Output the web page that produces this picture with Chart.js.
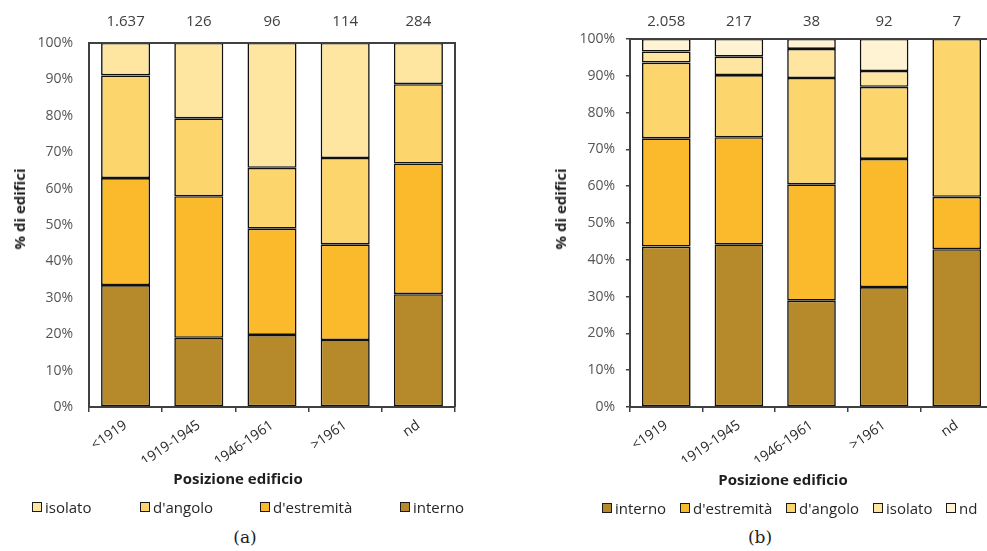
<!DOCTYPE html>
<html>
<head>
<meta charset="utf-8">
<script src="https://cdn.jsdelivr.net/npm/chart.js@4.4.1/dist/chart.umd.min.js"></script>
<style>
  html, body { margin: 0; padding: 0; background: #fff; width: 987px; height: 551px; overflow: hidden; position: relative; }
  .panel { position: absolute; top: 0; }
  .panel canvas { display: block; }
  .ytitle, .xtitle { position: absolute; font: bold 15px 'Open Sans', sans-serif; color: #1e1e1e; white-space: nowrap; }
  .ytitle { transform: translate(-50%, -50%) rotate(-90deg); }
  .xtitle { transform: translate(-50%, -50%); }
  .legend-item { position: absolute; display: flex; align-items: center; transform: translateY(-50%);
                 font: 15px 'Open Sans', sans-serif; color: #262626; white-space: nowrap; }
  .legend-item i { display: inline-block; width: 8px; height: 8px; border: 1.4px solid #1a1a1a; margin-right: 3px; }
  .caption { position: absolute; transform: translate(-50%, -50%); font: 17px 'DejaVu Serif', serif; color: #222; }
</style>
</head>
<body>

<div class="panel" id="panelA" style="left:0px"><canvas id="chartA" width="490" height="470"></canvas></div>
<div class="panel" id="panelB" style="left:495px"><canvas id="chartB" width="520" height="470"></canvas></div>

<script>
// categorie (epoca di costruzione)
const categories = ['<1919', '1919-1945', '1946-1961', '>1961', 'nd'];

// (a) numero di edifici per epoca e quote percentuali per posizione
const totalsA = ['1.637', '126', '96', '114', '284'];
const internoA   = [33.5, 19.0, 19.8, 18.4, 31.0];
const estremitaA = [29.4, 38.9, 29.2, 26.3, 35.9];
const angoloA    = [28.2, 21.4, 16.7, 23.7, 21.8];
const isolatoA   = [8.9, 20.7, 34.3, 31.6, 11.3];

// (b)
const totalsB = ['2.058', '217', '38', '92', '7'];
const internoB   = [43.6, 44.2, 28.9, 32.6, 42.9];
const estremitaB = [29.4, 29.1, 31.6, 34.8, 14.2];
const angoloB    = [20.6, 16.9, 28.9, 19.6, 42.9];
const isolatoB   = [3.0, 5.0, 7.9, 4.3, 0];
const ndB        = [3.4, 4.8, 2.7, 8.7, 0];

const yTicks = [0, 10, 20, 30, 40, 50, 60, 70, 80, 90, 100];

const colors = {
  interno: '#B68A2A',
  estremita: '#FBBA2B',
  angolo: '#FDD56D',
  isolato: '#FEE6A0',
  nd: '#FFF3D4'
};

const axisColor = '#404040';
const fontFamily = "'Open Sans', sans-serif";

function ds(label, data, color) {
  return {
    label: label,
    data: data,
    backgroundColor: color,
    borderColor: '#111',
    borderWidth: 1.6,
    borderSkipped: false,
    categoryPercentage: 1,
    barPercentage: 0.67
  };
}

// numero di edifici sopra ogni colonna
const totalsPlugin = {
  id: 'totals',
  afterDatasetsDraw(chart, args, opts) {
    const ctx = chart.ctx;
    const meta = chart.getDatasetMeta(0);
    ctx.save();
    ctx.font = '15px ' + fontFamily;
    ctx.fillStyle = '#404040';
    ctx.textAlign = 'center';
    ctx.textBaseline = 'middle';
    meta.data.forEach((bar, i) => {
      ctx.fillText(opts.labels[i], bar.x, chart.chartArea.top - opts.offset);
    });
    ctx.restore();
  }
};

// cornice superiore e destra dell'area del grafico
const framePlugin = {
  id: 'frame',
  afterDatasetsDraw(chart) {
    const {ctx, chartArea: a} = chart;
    ctx.save();
    ctx.strokeStyle = axisColor;
    ctx.lineWidth = 2;
    ctx.beginPath();
    ctx.moveTo(a.left, a.top);
    ctx.lineTo(a.right, a.top);
    ctx.lineTo(a.right, a.bottom);
    ctx.stroke();
    ctx.restore();
  }
};

function makeChart(canvasId, datasets, totals, cfg) {
  return new Chart(document.getElementById(canvasId), {
    type: 'bar',
    data: { labels: categories, datasets: datasets },
    plugins: [totalsPlugin, framePlugin],
    options: {
      responsive: false,
      animation: false,
      layout: { padding: cfg.padding },
      plugins: {
        legend: { display: false },
        tooltip: { enabled: false },
        totals: { labels: totals, offset: cfg.totalsOffset }
      },
      scales: {
        x: {
          stacked: true,
          grid: { display: true, drawOnChartArea: false, offset: true, tickLength: 5, color: axisColor, lineWidth: 1.5 },
          border: { color: axisColor, width: 2 },
          ticks: {
            autoSkip: false, minRotation: 35, maxRotation: 35, padding: 5,
            color: '#2a2a2a', font: { family: fontFamily, size: 14 }
          },
          afterFit(scale) { scale.height = 55; }
        },
        y: {
          stacked: true,
          min: 0,
          max: 100,
          afterBuildTicks(scale) { scale.ticks = yTicks.map(v => ({ value: v })); },
          ticks: {
            padding: cfg.yPad,
            color: '#555',
            font: { family: fontFamily, size: 14 },
            callback: v => v + '%'
          },
          grid: { display: true, drawOnChartArea: false, drawTicks: cfg.yTickMarks, tickLength: 4, color: axisColor, lineWidth: 1.5 },
          border: { color: axisColor, width: 2 },
          afterFit(scale) { scale.width = cfg.yWidth; }
        }
      }
    }
  });
}

const chartA = makeChart('chartA', [
  ds('interno', internoA, colors.interno),
  ds("d'estremità", estremitaA, colors.estremita),
  ds("d'angolo", angoloA, colors.angolo),
  ds('isolato', isolatoA, colors.isolato)
], totalsA, { padding: { top: 43, right: 35, bottom: 8, left: 0 }, yWidth: 89, yPad: 16, yTickMarks: false, totalsOffset: 21 });

const chartB = makeChart('chartB', [
  ds('interno', internoB, colors.interno),
  ds("d'estremità", estremitaB, colors.estremita),
  ds("d'angolo", angoloB, colors.angolo),
  ds('isolato', isolatoB, colors.isolato),
  ds('nd', ndB, colors.nd)
], totalsB, { padding: { top: 39, right: 22, bottom: 8, left: 0 }, yWidth: 135, yPad: 11, yTickMarks: true, totalsOffset: 17 });

// titoli, legenda e didascalia sotto ogni grafico
function addText(cls, text, x, y) {
  const el = document.createElement('div');
  el.className = cls;
  el.textContent = text;
  el.style.left = x + 'px';
  el.style.top = y + 'px';
  document.body.appendChild(el);
  return el;
}

function addLegend(chart, reverse, xs, y) {
  const items = chart.data.datasets.map(d => ({ label: d.label, color: d.backgroundColor }));
  if (reverse) items.reverse();
  items.forEach((it, i) => {
    const el = document.createElement('div');
    el.className = 'legend-item';
    el.style.left = xs[i] + 'px';
    el.style.top = y + 'px';
    const box = document.createElement('i');
    box.style.background = it.color;
    el.appendChild(box);
    el.appendChild(document.createTextNode(it.label));
    document.body.appendChild(el);
  });
}

addText('ytitle', '% di edifici', 19, 209);
addText('xtitle', 'Posizione edificio', 238, 478);
addLegend(chartA, true, [32, 140, 260, 400], 507);
addText('caption', '(a)', 245, 537);

addText('ytitle', '% di edifici', 560, 209);
addText('xtitle', 'Posizione edificio', 783, 479);
addLegend(chartB, false, [602, 680, 786, 873, 946], 508);
addText('caption', '(b)', 760, 537);
</script>
</body>
</html>
